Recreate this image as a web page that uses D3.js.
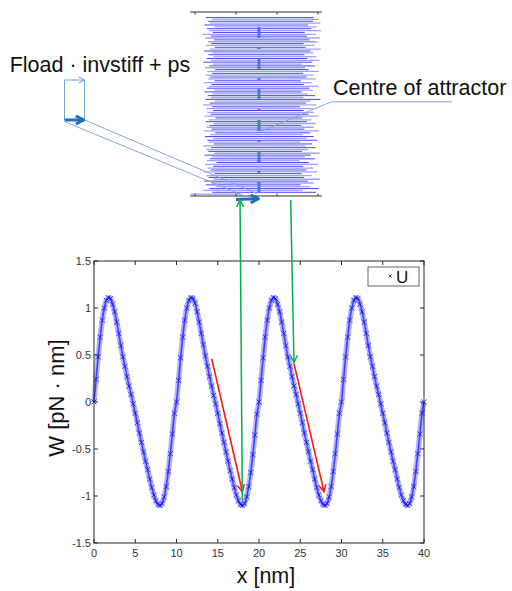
<!DOCTYPE html>
<html>
<head>
<meta charset="utf-8">
<script src="https://cdn.jsdelivr.net/npm/d3@7"></script>
<style>
  body { margin: 0; background: #fff; }
  text { font-family: "Liberation Sans", Arial, sans-serif; }
</style>
</head>
<body>
<svg id="chart"></svg>
<script>
// potential W(x), sampled every 0.25 nm from 0 to 40 nm
const xStep = 0.25;
const potential = [
  0.00, 0.24, 0.48, 0.69, 0.87, 1.00, 1.08, 1.11, 1.10, 1.04, 0.96, 0.85, 0.73, 0.60, 0.48, 0.38, 0.27, 0.17, 0.08, -0.02,
  -0.12, -0.22, -0.33, -0.43, -0.53, -0.63, -0.72, -0.82, -0.91, -0.99, -1.05, -1.09, -1.10, -1.08, -1.01, -0.90, -0.74, -0.55, -0.34, -0.12,
  0.00, 0.23, 0.47, 0.69, 0.87, 1.00, 1.08, 1.11, 1.10, 1.05, 0.96, 0.85, 0.73, 0.61, 0.49, 0.38, 0.27, 0.17, 0.07, -0.02,
  -0.12, -0.23, -0.33, -0.43, -0.53, -0.63, -0.73, -0.82, -0.91, -0.99, -1.05, -1.09, -1.10, -1.08, -1.01, -0.90, -0.75, -0.56, -0.35, -0.13,
  0.00, 0.23, 0.47, 0.69, 0.87, 1.00, 1.08, 1.11, 1.10, 1.04, 0.96, 0.85, 0.73, 0.60, 0.48, 0.38, 0.27, 0.17, 0.08, -0.02,
  -0.12, -0.22, -0.33, -0.43, -0.53, -0.63, -0.72, -0.82, -0.91, -0.99, -1.05, -1.09, -1.10, -1.08, -1.01, -0.90, -0.74, -0.55, -0.34, -0.12,
  0.00, 0.24, 0.48, 0.69, 0.87, 1.00, 1.08, 1.11, 1.10, 1.04, 0.96, 0.85, 0.73, 0.60, 0.48, 0.38, 0.27, 0.17, 0.08, -0.02,
  -0.12, -0.22, -0.33, -0.43, -0.53, -0.63, -0.72, -0.82, -0.91, -0.99, -1.05, -1.09, -1.10, -1.08, -1.01, -0.90, -0.74, -0.55, -0.34, -0.12,
  0.00
];
const xTicks = [0, 5, 10, 15, 20, 25, 30, 35, 40];
const yTicks = [-1.5, -1, -0.5, 0, 0.5, 1, 1.5];
const legendLabel = 'U';

// trajectory rows of the attractor inset (left and right ends, inset units)
const rowLeft = [
  -0.12, 0.42, 0.18, 0.35, 0.50, 0.26, 0.40, 0.22, 0.45, 0.33,
  0.28, 0.48, 0.20, 0.38, 0.31, 0.44, 0.25, 0.52, 0.29, 0.36,
  0.41, 0.23, 0.47, 0.32, 0.27, 0.39, 0.19, 0.46, 0.34, 0.30,
  0.43, 0.24, 0.37, 0.49, 0.21, 0.40, 0.28, 0.35, 0.45, 0.26,
  0.33, 0.50, 0.22, 0.38, 0.30, 0.44, 0.27, 0.41, 0.19, 0.36,
  0.48, 0.25, 0.39, 0.31, 0.43, 0.23, 0.46, 0.29, 0.34, 0.40,
  0.21, 0.47, 0.32, 0.37, 0.26, 0.42, 0.30, 0.49, 0.24, 0.35,
  0.44, 0.20, 0.38, 0.28, 0.45, 0.33, 0.41, 0.22, 0.36, 0.48,
  0.27, 0.40, 0.31, 0.46, 0.25, 0.39, 0.18, 0.43, 0.34, 0.29,
  0.47, 0.23, 0.37, 0.32, 0.42, 0.26
];
const rowRight = [
  1.10, 2.95, 2.62, 3.02, 2.80, 2.58, 2.90, 2.75, 3.05, 2.66,
  2.85, 2.60, 2.98, 2.72, 2.88, 2.64, 3.00, 2.78, 2.55, 2.92,
  2.68, 2.83, 3.04, 2.61, 2.76, 2.94, 2.70, 2.86, 2.57, 2.99,
  2.74, 2.90, 2.63, 2.81, 3.03, 2.67, 2.89, 2.59, 2.96, 2.73,
  2.84, 2.62, 3.01, 2.77, 2.91, 2.65, 2.87, 2.56, 2.97, 2.71,
  2.82, 3.06, 2.64, 2.93, 2.75, 2.60, 2.88, 2.79, 3.00, 2.66,
  2.85, 2.58, 2.95, 2.72, 2.90, 2.63, 3.02, 2.78, 2.69, 2.93,
  2.61, 2.86, 3.04, 2.74, 2.96, 2.67, 2.89, 2.82, 3.07, 2.70,
  2.92, 2.65, 2.99, 2.80, 3.05, 2.73, 2.95, 2.68, 3.08, 2.84,
  2.97, 2.76, 3.06, 2.88, 3.02, 2.90
];
const insetTicks = [0, 1, 2, 3];
const attractorCentre = 1.56;

// arrows on the main plot, [x0, y0, x1, y1] in data units
const redArrows = [[14.27, 0.46, 17.99, -0.955], [24.24, 0.41, 27.88, -0.955]];
const greenUp = [17.98, -1.05, 17.7, 2.15];
const greenDown = [23.84, 2.15, 24.24, 0.42];

const width = 512, height = 591;
const svg = d3.select('#chart').attr('width', width).attr('height', height);

defineMarkers(svg);

// size parameters for the main plot
const mainDim = { x: 94, y: 261, width: 330, height: 282, tick: 4 };
const x = d3.scaleLinear().domain([0, 40]).range([mainDim.x, mainDim.x + mainDim.width]);
const y = d3.scaleLinear().domain([-1.5, 1.5]).range([mainDim.y + mainDim.height, mainDim.y]);

// size parameters for the inset (trajectory around the attractor)
const insetDim = { x: 190, y: 12, width: 132, height: 184, tick: 2.5 };
const xi = d3.scaleLinear().domain([-0.125, 3.1]).range([insetDim.x, insetDim.x + insetDim.width]);
const yi = d3.scaleLinear().domain([-1, 98]).range([insetDim.y + insetDim.height, insetDim.y]);

drawInset();
drawMain();
drawAnnotations();

function defineMarkers(svg) {
  const defs = svg.append('defs');
  const addHead = (id, color, w, len) => {
    defs.append('marker')
      .attr('id', id)
      .attr('markerUnits', 'userSpaceOnUse')
      .attr('viewBox', `0 0 ${len} ${len}`)
      .attr('refX', len - 1).attr('refY', len / 2)
      .attr('markerWidth', len).attr('markerHeight', len)
      .attr('orient', 'auto-start-reverse')
      .append('path')
      .attr('d', `M1,1 L${len - 1},${len / 2} L1,${len - 1}`)
      .attr('fill', 'none')
      .attr('stroke', color)
      .attr('stroke-width', w);
  };
  addHead('red-head', '#ff1a1a', 1.5, 9);
  addHead('green-head', '#00b050', 1.5, 9);
  addHead('thin-head', '#6f9fd6', 1, 8);
  addHead('thick-head', '#1f6fbf', 3, 10);
}

function drawMain() {
  const g = svg.append('g');

  // thick band under the markers
  const pts = potential.map((w, i) => [i * xStep, w]);
  const line = d3.line().x(d => x(d[0])).y(d => y(d[1])).curve(d3.curveMonotoneX);
  g.append('path')
    .attr('d', line(pts))
    .attr('fill', 'none')
    .attr('stroke', '#8080ff')
    .attr('stroke-width', 5.5)
    .attr('opacity', 0.6);
  g.append('path')
    .attr('d', line(pts))
    .attr('fill', 'none')
    .attr('stroke', '#1010ff')
    .attr('stroke-width', 1.6)
    .attr('opacity', 0.7);

  const s = 2.6; // half size of an x marker
  g.selectAll('path.mark')
    .data(pts)
    .join('path')
    .attr('class', 'mark')
    .attr('d', d => {
      const cx = x(d[0]), cy = y(d[1]);
      return `M${cx - s},${cy - s}L${cx + s},${cy + s}M${cx - s},${cy + s}L${cx + s},${cy - s}`;
    })
    .attr('stroke', '#0000ff')
    .attr('stroke-width', 0.9)
    .attr('opacity', 0.75);

  // box and inward ticks on all sides
  const axisColor = '#262626';
  g.append('rect')
    .attr('x', mainDim.x).attr('y', mainDim.y)
    .attr('width', mainDim.width).attr('height', mainDim.height)
    .attr('fill', 'none').attr('stroke', axisColor).attr('stroke-width', 1);

  xTicks.forEach(t => {
    [[y.range()[0], -1], [y.range()[1], 1]].forEach(([py, dir]) => {
      g.append('line')
        .attr('x1', x(t)).attr('x2', x(t))
        .attr('y1', py).attr('y2', py + dir * mainDim.tick)
        .attr('stroke', axisColor);
    });
    g.append('text')
      .attr('x', x(t)).attr('y', y.range()[0] + 14)
      .attr('text-anchor', 'middle')
      .attr('font-size', 11).attr('fill', '#333')
      .text(t);
  });

  yTicks.forEach(t => {
    [[x.range()[0], 1], [x.range()[1], -1]].forEach(([px, dir]) => {
      g.append('line')
        .attr('y1', y(t)).attr('y2', y(t))
        .attr('x1', px).attr('x2', px + dir * mainDim.tick)
        .attr('stroke', axisColor);
    });
    g.append('text')
      .attr('x', x.range()[0] - 3).attr('y', y(t) + 4)
      .attr('text-anchor', 'end')
      .attr('font-size', 11).attr('fill', '#333')
      .text(t);
  });

  g.append('text')
    .attr('x', 266).attr('y', 583)
    .attr('text-anchor', 'middle')
    .attr('font-size', 21.5).attr('fill', '#111')
    .text('x [nm]');

  g.append('text')
    .attr('transform', 'translate(64,398) rotate(-90)')
    .attr('text-anchor', 'middle')
    .attr('font-size', 22).attr('fill', '#111')
    .text('W [pN \u00b7 nm]');

  // legend
  const lg = g.append('g');
  lg.append('rect')
    .attr('x', 368).attr('y', 267).attr('width', 51).attr('height', 19)
    .attr('fill', '#fff').attr('stroke', '#666').attr('stroke-width', 1);
  lg.append('path')
    .attr('d', 'M388.5,274.5L391.5,277.5M388.5,277.5L391.5,274.5')
    .attr('stroke', '#0000ff').attr('stroke-width', 0.8);
  lg.append('text')
    .attr('x', 396).attr('y', 283)
    .attr('font-size', 17).attr('fill', '#111')
    .text(legendLabel);
}

function drawInset() {
  const g = svg.append('g');

  // horizontal excursions, light and dark rows alternating
  rowLeft.forEach((l, i) => {
    const light = i % 2 === 0;
    g.append('line')
      .attr('x1', xi(l)).attr('x2', xi(rowRight[i]))
      .attr('y1', yi(i)).attr('y2', yi(i))
      .attr('stroke', light ? '#a0a0ff' : '#1414ff')
      .attr('stroke-width', light ? 1.3 : 0.8);
  });

  // centre of attractor, dash-dot line
  g.append('line')
    .attr('x1', xi(attractorCentre)).attr('x2', xi(attractorCentre))
    .attr('y1', yi(95.3)).attr('y2', yi(1.2))
    .attr('stroke', '#4a7ebb')
    .attr('stroke-width', 3)
    .attr('stroke-dasharray', '11,9,2,9')
    .attr('stroke-dashoffset', -10);

  // top and bottom axes with inward ticks
  [[-1, 1], [98, -1]].forEach(([t, dir]) => {
    g.append('line')
      .attr('x1', xi.range()[0]).attr('x2', xi.range()[1])
      .attr('y1', yi(t)).attr('y2', yi(t))
      .attr('stroke', '#333');
    insetTicks.forEach(v => {
      g.append('line')
        .attr('x1', xi(v)).attr('x2', xi(v))
        .attr('y1', yi(t)).attr('y2', yi(t) - dir * insetDim.tick)
        .attr('stroke', '#333');
    });
  });
}

function drawAnnotations() {
  const g = svg.append('g');

  // schematic vectors on the left, in inset units
  g.append('line')
    .attr('x1', xi(-3.19)).attr('y1', yi(61.4)).attr('x2', xi(-3.19)).attr('y2', yi(39.9))
    .attr('stroke', '#6f9fd6').attr('stroke-width', 1);
  g.append('line')
    .attr('x1', xi(-2.70)).attr('y1', yi(61.4)).attr('x2', xi(-2.70)).attr('y2', yi(39.9))
    .attr('stroke', '#6f9fd6').attr('stroke-width', 1);
  g.append('line')
    .attr('x1', xi(-3.19)).attr('y1', yi(61.4)).attr('x2', xi(-2.70)).attr('y2', yi(61.4))
    .attr('stroke', '#6f9fd6').attr('stroke-width', 1)
    .attr('marker-end', 'url(#thin-head)');
  g.append('line')
    .attr('x1', xi(-2.70)).attr('y1', yi(39.9)).attr('x2', xi(1.50)).attr('y2', yi(0.45))
    .attr('stroke', '#7fa7d7').attr('stroke-width', 1);
  g.append('line')
    .attr('x1', xi(-3.19)).attr('y1', yi(39.0)).attr('x2', xi(1.26)).attr('y2', yi(-1.4))
    .attr('stroke', '#7fa7d7').attr('stroke-width', 1);
  g.append('line')
    .attr('x1', xi(-3.19)).attr('y1', yi(39.9)).attr('x2', xi(-2.72)).attr('y2', yi(39.9))
    .attr('stroke', '#1f6fbf').attr('stroke-width', 3)
    .attr('marker-end', 'url(#thick-head)');
  g.append('line')
    .attr('x1', xi(1.0)).attr('y1', yi(-2.9)).attr('x2', xi(1.55)).attr('y2', yi(-2.4))
    .attr('stroke', '#1f6fbf').attr('stroke-width', 3)
    .attr('marker-end', 'url(#thick-head)');

  g.append('text')
    .attr('x', xi(-4.53)).attr('y', yi(65.9))
    .attr('font-size', 21.5).attr('fill', '#111')
    .text('Fload \u00b7 invstiff + ps');

  // leader to the centre of attractor
  g.append('path')
    .attr('d', d3.line()([[xi(6.27), yi(49.7)], [xi(3.33), yi(49.7)], [xi(attractorCentre + 0.03), yi(33.6)]]))
    .attr('fill', 'none').attr('stroke', '#7fa7d7').attr('stroke-width', 1);
  g.append('text')
    .attr('x', xi(3.37)).attr('y', yi(53.3))
    .attr('font-size', 21.5).attr('fill', '#111')
    .text('Centre of attractor');

  // arrows linking the inset to the potential
  redArrows.forEach(a => {
    g.append('line')
      .attr('x1', x(a[0])).attr('y1', y(a[1])).attr('x2', x(a[2])).attr('y2', y(a[3]))
      .attr('stroke', '#ff1a1a').attr('stroke-width', 1.6)
      .attr('marker-end', 'url(#red-head)');
  });
  g.append('line')
    .attr('x1', x(greenUp[0])).attr('y1', y(greenUp[1])).attr('x2', x(greenUp[2])).attr('y2', y(greenUp[3]))
    .attr('stroke', '#00b050').attr('stroke-width', 1.5)
    .attr('marker-end', 'url(#green-head)');
  g.append('line')
    .attr('x1', x(greenDown[0])).attr('y1', y(greenDown[1])).attr('x2', x(greenDown[2])).attr('y2', y(greenDown[3]))
    .attr('stroke', '#00b050').attr('stroke-width', 1.5)
    .attr('marker-end', 'url(#green-head)');
}
</script>
</body>
</html>
